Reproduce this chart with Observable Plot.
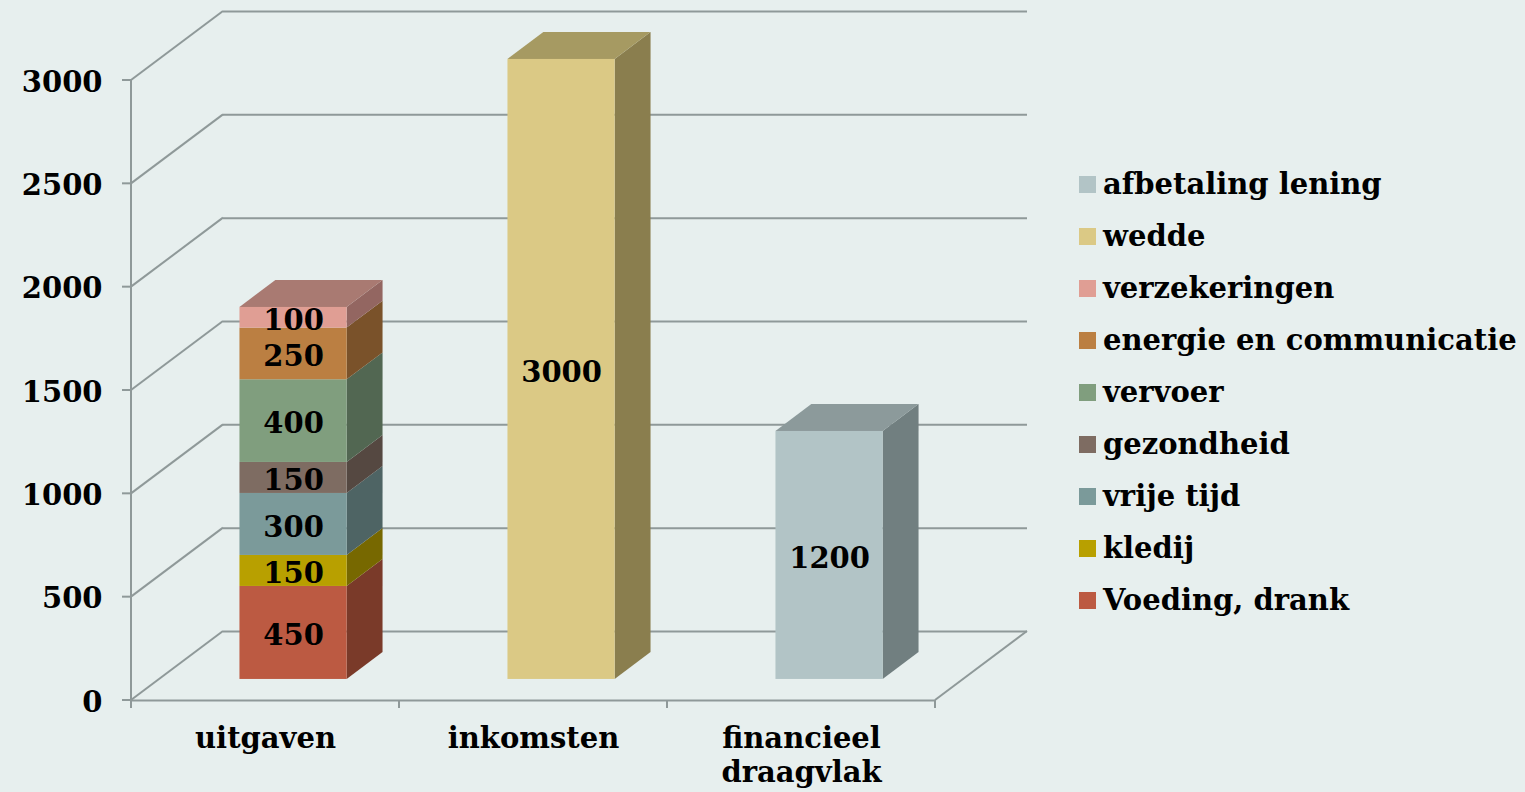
<!DOCTYPE html>
<html><head><meta charset="utf-8">
<script src="https://cdn.jsdelivr.net/npm/d3@7"></script>
<script src="https://cdn.jsdelivr.net/npm/@observablehq/plot@0.6"></script>
<style>
html,body{margin:0;padding:0;background:#E7EFEE;}
#wrap{position:relative;width:1525px;height:792px;overflow:hidden;background:#E7EFEE;}
#legend{position:absolute;left:1079px;top:158px;font-family:"DejaVu Serif",serif;font-weight:bold;font-size:29px;color:#000;}
#legend .row{height:52px;display:flex;align-items:center;white-space:nowrap;}
#legend .sw{width:17px;height:17px;margin-right:7px;flex:none;}
</style>
</head><body><div id="wrap"></div>
<script>
// ---- data ----
const categories = ["uitgaven", "inkomsten", "financieel draagvlak"];
const seriesNames = ["Voeding, drank", "kledij", "vrije tijd", "gezondheid", "vervoer", "energie en communicatie", "verzekeringen", "wedde", "afbetaling lening"];
const seriesCategory = ["uitgaven", "uitgaven", "uitgaven", "uitgaven", "uitgaven", "uitgaven", "uitgaven", "inkomsten", "financieel draagvlak"];
const seriesValues = [450, 150, 300, 150, 400, 250, 100, 3000, 1200];
const yTicks = [0, 500, 1000, 1500, 2000, 2500, 3000];
const frontColors = ["#BC5A42", "#B8A000", "#7B9A9A", "#7E6C62", "#809E7E", "#BB7F42", "#E09E94", "#DBC985", "#B2C4C6"];
const sideColors  = ["#7A3A29", "#776800", "#4E6464", "#554841", "#526752", "#7A522A", "#936661", "#8A7E4E", "#717F80"];
const topColors   = ["#9A4B37", "#978500", "#647E7E", "#6A5A51", "#688268", "#9A6836", "#A97A72", "#A69A62", "#8C9A9B"];

// ---- layout/style constants ----
const W = 1525, H = 792;
const ML = 131, MR = 590, MT = 80, MB = 92;
const DX = 92, DY = 69;          // depth of the 3D box
const F0 = 0.305, F1 = 0.695;    // bar front/back depth fraction
const BAR_FRAC = 0.4;            // bar width as fraction of band
const GRID = "#8F9999";
const FONT = '"DejaVu Serif", serif';
const FS = 29;

// stack rows
const rows = [];
const acc = {};
seriesNames.forEach((name, i) => {
  const cat = seriesCategory[i];
  const y1 = acc[cat] || 0;
  const y2 = y1 + seriesValues[i];
  acc[cat] = y2;
  rows.push({name, cat, value: seriesValues[i], y1, y2, front: frontColors[i], side: sideColors[i], top: topColors[i], i});
});
const topOf = {};
rows.forEach(r => { topOf[r.cat] = r; });

const bandW = (W - ML - MR) / categories.length;
const inset = bandW * (1 - BAR_FRAC) / 2;

function walls(index, scales, values, dims) {
  const {x, y} = scales;
  const g = d3.create("svg:g").attr("fill", "none").attr("stroke", GRID).attr("stroke-width", 2);
  const x0 = dims.marginLeft, x1 = dims.width - dims.marginRight;
  const yb = y(0);
  for (const t of yTicks) {
    g.append("line").attr("x1", x0).attr("y1", y(t)).attr("x2", x0 + DX).attr("y2", y(t) - DY);
    g.append("line").attr("x1", x0 - 9).attr("y1", y(t)).attr("x2", x0).attr("y2", y(t));
  }
  g.append("line").attr("x1", x1).attr("y1", yb).attr("x2", x1 + DX).attr("y2", yb - DY);
  g.append("line").attr("x1", x0).attr("y1", yb).attr("x2", x0).attr("y2", y(yTicks[yTicks.length - 1]));
  const bounds = categories.map(c => x(c)).concat([x1]);
  for (const b of bounds) g.append("line").attr("x1", b).attr("y1", yb).attr("x2", b).attr("y2", yb + 8);
  return g.node();
}

function sides(index, scales, values, dims) {
  const {x, y} = scales;
  const g = d3.create("svg:g").attr("stroke", "none");
  const ox0 = DX * F0, oy0 = DY * F0, ox1 = DX * F1, oy1 = DY * F1;
  for (const r of rows) {
    const xl = x(r.cat) + inset, xr = x(r.cat) + bandW - inset;
    const ya = y(r.y1), yt = y(r.y2);
    const pts = [[xr + ox0, ya - oy0], [xr + ox1, ya - oy1], [xr + ox1, yt - oy1], [xr + ox0, yt - oy0]];
    g.append("polygon").attr("points", pts.map(p => p.join(",")).join(" ")).attr("fill", r.side);
    if (topOf[r.cat] === r) {
      const tp = [[xl + ox0, yt - oy0], [xr + ox0, yt - oy0], [xr + ox1, yt - oy1], [xl + ox1, yt - oy1]];
      g.append("polygon").attr("points", tp.map(p => p.join(",")).join(" ")).attr("fill", r.top);
    }
  }
  return g.node();
}

const chart = Plot.plot({
  width: W, height: H,
  marginLeft: ML, marginRight: MR, marginTop: MT, marginBottom: MB,
  x: {domain: categories, padding: 0, axis: null},
  y: {domain: [0, 3000], axis: null},
  style: {background: "transparent", fontFamily: FONT, fontSize: FS + "px", fontWeight: "bold", color: "#000", overflow: "visible"},
  marks: [
    Plot.ruleY(yTicks, {dx: DX, dy: -DY, stroke: GRID, strokeWidth: 2}),
    Plot.ruleY([0], {stroke: GRID, strokeWidth: 2}),
    walls,
    sides,
    Plot.barY(rows, {x: "cat", y1: "y1", y2: "y2", fill: "front", insetLeft: inset, insetRight: inset, dx: DX * F0, dy: -DY * F0}),
    Plot.text(rows, {x: "cat", y: d => (d.y1 + d.y2) / 2, text: d => String(d.value), dx: DX * F0, dy: -DY * F0 + 3, fontSize: FS, fontWeight: "bold", fill: "#000"}),
    Plot.axisY(yTicks, {tickSize: 0, tickPadding: 29, fontSize: FS, fontWeight: "bold", fill: "#000", label: null, tickFormat: d => String(d), dy: 2}),
    Plot.axisX({tickSize: 0, tickPadding: 24, fontSize: FS, fontWeight: "bold", fill: "#000", lineHeight: 1.16, label: null, tickFormat: d => d.replace(" ", "\n")})
  ]
});
const wrap = document.getElementById("wrap");
wrap.appendChild(chart);

// legend (reverse series order, as in the reference)
const legend = document.createElement("div");
legend.id = "legend";
for (let i = seriesNames.length - 1; i >= 0; i--) {
  const row = document.createElement("div");
  row.className = "row";
  const sw = document.createElement("span");
  sw.className = "sw";
  sw.style.background = frontColors[i];
  const tx = document.createElement("span");
  tx.textContent = seriesNames[i];
  row.appendChild(sw); row.appendChild(tx);
  legend.appendChild(row);
}
wrap.appendChild(legend);
</script>
</body></html>
